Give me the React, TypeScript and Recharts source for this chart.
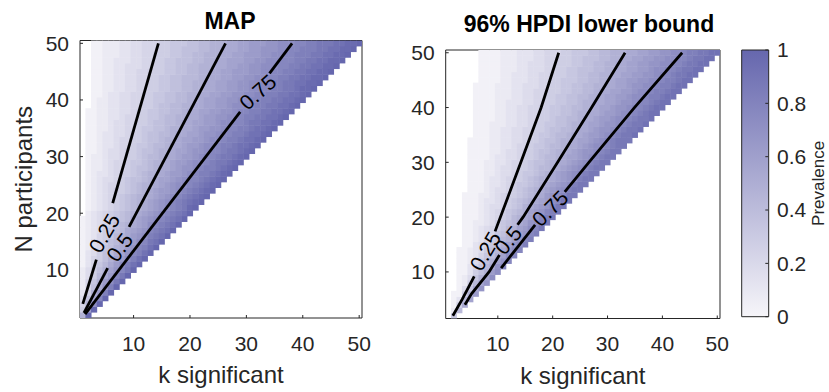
import React from "react";
import { ScatterChart, Scatter, XAxis, YAxis, BarChart, Bar } from "recharts";

const FONT = "'Liberation Sans', Arial, Helvetica, sans-serif";
const INK = "#262626";

// grid of the two heatmaps: N participants (rows) x k significant (columns, k <= N)
const N_ROWS = [
  2, 3, 4, 5, 6, 7, 8, 9, 10, 11, 12, 13, 14, 15, 16, 17, 18, 19, 20, 21, 22, 23, 24, 25, 26,
  27, 28, 29, 30, 31, 32, 33, 34, 35, 36, 37, 38, 39, 40, 41, 42, 43, 44, 45, 46, 47, 48, 49, 50,
];
const K_TICKS = [10, 20, 30, 40, 50];
const N_TICKS = [10, 20, 30, 40, 50];
const BAR_TICKS = [0, 0.2, 0.4, 0.6, 0.8, 1];

// prevalence levels, read as iso-lines (k position where the colour reaches each level)
const LEVELS = [0, 0.05, 0.1, 0.15, 0.2, 0.25, 0.3, 0.35, 0.4, 0.45, 0.5, 0.55, 0.6, 0.65, 0.7, 0.75, 0.8, 0.85, 0.9, 0.95, 1];

// MAP: iso-lines are rays, k read at N = 0 and N = 50
const MAP_ISO_N = [0, 50];
const MAP_ISO_K = [
  [0, 2.6], [0, 4.9], [0, 7.3], [0, 9.6], [0, 12.0], [0, 14.4], [0, 16.8], [0, 19.1], [0, 21.5], [0, 23.9],
  [0, 26.3], [0, 28.6], [0, 31.0], [0, 33.4], [0, 35.8], [0, 38.1], [0, 40.5], [0, 42.9], [0, 45.3], [0, 47.6], [0, 50],
];

// HPDI lower bound: k read at N = 2, 5, 10, 20, 30, 40, 50
const HPDI_ISO_N = [2, 5, 10, 20, 30, 40, 50];
const HPDI_ISO_K = [
  [1.6, 1.8, 2.6, 3.6, 4.6, 5.6, 6.6],
  [1.6, 2.8, 4.2, 6.2, 7.9, 9.4, 10.9],
  [1.6, 3.0, 4.7, 7.3, 9.6, 11.7, 13.7],
  [1.6, 3.2, 5.2, 8.4, 11.2, 13.9, 16.4],
  [1.7, 3.4, 5.6, 9.4, 12.8, 16.0, 19.0],
  [1.8, 3.5, 6.0, 10.3, 14.2, 17.9, 21.2],
  [2.0, 3.7, 6.5, 11.3, 15.7, 19.9, 23.8],
  [2.1, 3.9, 6.9, 12.1, 17.0, 21.8, 26.3],
  [2.1, 4.0, 7.3, 13.0, 18.4, 23.6, 28.6],
  [2.5, 4.1, 7.7, 13.8, 19.7, 25.4, 30.9],
  [2.5, 4.3, 8.2, 14.6, 20.9, 27.1, 33.1],
  [3.4, 4.5, 8.6, 15.3, 22.1, 28.7, 35.2],
  [3.5, 5.2, 8.9, 16.1, 23.3, 30.4, 37.3],
  [3.5, 5.5, 9.2, 16.7, 24.4, 31.9, 39.3],
  [3.5, 6.0, 9.5, 17.4, 25.5, 33.4, 41.3],
  [3.5, 6.0, 10.2, 18.0, 26.6, 34.9, 43.4],
  [3.5, 6.0, 11.0, 18.6, 27.4, 36.2, 44.9],
  [3.5, 6.0, 12.5, 19.1, 28.3, 37.5, 46.6],
  [3.5, 6.0, 12.5, 21.0, 31.0, 38.6, 48.1],
  [3.5, 6.0, 12.5, 21.0, 31.0, 41.0, 51.0],
];

type Pt = { k: number; n: number };
type Contour = { level: string; segments: Pt[][]; label: Pt };

const MAP_CONTOURS: Contour[] = [
  {
    level: "0.25",
    segments: [
      [{ k: 1.0, n: 4.0 }, { k: 3.4, n: 11.8 }],
      [{ k: 6.3, n: 21.8 }, { k: 14.4, n: 50 }],
    ],
    label: { k: 4.8, n: 16.5 },
  },
  {
    level: "0.5",
    segments: [
      [{ k: 1.2, n: 2.4 }, { k: 5.4, n: 10.3 }],
      [{ k: 9.2, n: 17.6 }, { k: 26.3, n: 50 }],
    ],
    label: { k: 7.5, n: 14.0 },
  },
  {
    level: "0.75",
    segments: [
      [{ k: 1.4, n: 2.2 }, { k: 28.9, n: 37.9 }],
      [{ k: 34.1, n: 44.7 }, { k: 38.1, n: 50 }],
    ],
    label: { k: 32.0, n: 41.4 },
  },
];

const HPDI_CONTOURS: Contour[] = [
  {
    level: "0.25",
    segments: [
      [{ k: 1.8, n: 2.0 }, { k: 3.5, n: 5 }, { k: 5.7, n: 9.2 }],
      [{ k: 9.5, n: 17.4 }, { k: 14.2, n: 30 }, { k: 17.9, n: 40 }, { k: 21.1, n: 50 }],
    ],
    label: { k: 7.7, n: 13.8 },
  },
  {
    level: "0.5",
    segments: [
      [{ k: 4.0, n: 4.0 }, { k: 5.2, n: 6 }, { k: 8.4, n: 10 }, { k: 10.3, n: 13.1 }],
      [{ k: 13.6, n: 18.6 }, { k: 14.6, n: 20 }, { k: 20.9, n: 30 }, { k: 27.1, n: 40 }, { k: 33.2, n: 50 }],
    ],
    label: { k: 11.9, n: 15.8 },
  },
  {
    level: "0.75",
    segments: [
      [{ k: 10.6, n: 10.7 }, { k: 16.8, n: 18.6 }],
      [{ k: 22.2, n: 24.6 }, { k: 26.6, n: 30 }, { k: 34.9, n: 40 }, { k: 43.6, n: 50 }],
    ],
    label: { k: 19.5, n: 21.6 },
  },
];

const BAR_DATA = [{ name: "Prevalence", v: 1 }];

// styles
const LOW = [246, 245, 249];
const HIGH = [102, 103, 174];
const MAP_ANGLES: Record<string, number> = { "0.25": -60, "0.5": -54, "0.75": -42 };
const HPDI_ANGLES: Record<string, number> = { "0.25": -60, "0.5": -50, "0.75": -45 };

function colorAt(v: number) {
  const c = LOW.map((lo, i) => Math.round(lo + (HIGH[i] - lo) * v));
  return `rgb(${c[0]},${c[1]},${c[2]})`;
}

function isoAt(rows: number[], ks: number[], n: number) {
  let i = 0;
  while (i < rows.length - 2 && n > rows[i + 1]) i++;
  const t = (n - rows[i]) / (rows[i + 1] - rows[i]);
  return ks[i] + t * (ks[i + 1] - ks[i]);
}

function buildCells(rows: number[], iso: number[][]) {
  const cells: { k: number; n: number; fill: string }[] = [];
  N_ROWS.forEach((n) => {
    for (let k = 1; k <= n; k++) {
      let lvl = -1;
      iso.forEach((ks, i) => {
        if (k >= isoAt(rows, ks, n) - 1e-6) lvl = i;
      });
      if (lvl < 0) continue;
      const v = Math.min(LEVELS[lvl] + 0.025, 1);
      cells.push({ k, n, fill: colorAt(LEVELS[lvl] === 1 ? 1 : v) });
    }
  });
  return cells;
}

const MAP_CELLS = buildCells(MAP_ISO_N, MAP_ISO_K);
const HPDI_CELLS = buildCells(HPDI_ISO_N, HPDI_ISO_K);

type Box = { x: number; width: number; plotLeft: number; plotRight: number; plotTop: number; plotBottom: number };
const LEFT_BOX: Box = { x: 0, width: 400, plotLeft: 80, plotRight: 362, plotTop: 40.5, plotBottom: 318 };
const RIGHT_BOX: Box = { x: 400, width: 330, plotLeft: 445.7, plotRight: 720, plotTop: 50, plotBottom: 318.5 };
const H = 392;
const XAXIS_H = 70;

const tickStyle = { fontSize: 21, fill: INK, fontFamily: FONT };

function Panel({ box, cells, contours, angles, yLabel }: {
  box: Box; cells: any[]; contours: Contour[]; angles: Record<string, number>; yLabel?: string;
}) {
  const cw = (box.plotRight - box.plotLeft) / 50;
  const ch = (box.plotBottom - box.plotTop) / 49;
  const labels = contours.map((c) => ({ ...c.label, text: c.level }));

  const cellShape = (p: any) => (
    <rect x={p.cx - cw / 2 - 0.25} y={p.cy - ch / 2 - 0.25} width={cw + 0.5} height={ch + 0.5} fill={p.payload.fill} />
  );
  const labelShape = (p: any) => (
    <text
      x={p.cx}
      y={p.cy}
      transform={`rotate(${angles[p.payload.text]} ${p.cx} ${p.cy})`}
      textAnchor="middle"
      dominantBaseline="central"
      fontSize={21}
      fontFamily={FONT}
      fill="#000"
    >
      {p.payload.text}
    </text>
  );

  return (
    <div style={{ position: "absolute", left: box.x, top: 0 }}>
      <ScatterChart
        width={box.width}
        height={H}
        margin={{
          top: box.plotTop - 1,
          right: box.x + box.width - box.plotRight - 1,
          bottom: H - box.plotBottom - XAXIS_H,
          left: 0,
        }}
      >
        <XAxis
          xAxisId="b"
          type="number"
          dataKey="k"
          domain={[0.5, 50.5]}
          allowDataOverflow
          ticks={K_TICKS}
          height={XAXIS_H}
          tickSize={-3}
          tickMargin={21}
          stroke={INK}
          tick={tickStyle}
          label={{ value: "k significant", position: "insideBottom", offset: 5, fontSize: 24, fill: INK, fontFamily: FONT }}
        />
        <XAxis xAxisId="t" orientation="top" type="number" domain={[0.5, 50.5]} allowDataOverflow ticks={K_TICKS} height={1} tickSize={-3} tick={false} stroke={INK} />
        <YAxis
          yAxisId="l"
          type="number"
          dataKey="n"
          domain={[1.5, 50.5]}
          allowDataOverflow
          ticks={N_TICKS}
          width={box.plotLeft - box.x}
          tickSize={-3}
          tickMargin={14}
          stroke={INK}
          tick={tickStyle}
          label={
            yLabel
              ? { value: yLabel, angle: -90, position: "insideLeft", offset: 23, fontSize: 24, fill: INK, fontFamily: FONT, style: { textAnchor: "middle" } }
              : undefined
          }
        />
        <YAxis yAxisId="r" orientation="right" type="number" domain={[1.5, 50.5]} allowDataOverflow ticks={N_TICKS} width={1} tickSize={-3} tick={false} stroke={INK} />
        <Scatter xAxisId="b" yAxisId="l" data={cells} shape={cellShape} isAnimationActive={false} />
        {contours.map((c) =>
          c.segments.map((seg, i) => (
            <Scatter
              key={c.level + i}
              xAxisId="b"
              yAxisId="l"
              data={seg}
              line={{ stroke: "#000", strokeWidth: 2.8 }}
              lineType="joint"
              shape={() => <g />}
              isAnimationActive={false}
            />
          ))
        )}
        <Scatter xAxisId="b" yAxisId="l" data={labels} shape={labelShape} isAnimationActive={false} />
      </ScatterChart>
    </div>
  );
}

function Colorbar() {
  return (
    <div style={{ position: "absolute", left: 730, top: 0 }}>
      <BarChart width={99} height={H} data={BAR_DATA} margin={{ top: 50, right: 0, bottom: H - 316.7, left: 11.7 }} barCategoryGap={0}>
        <defs>
          <linearGradient id="cbGrad" x1="0" y1="0" x2="0" y2="1">
            <stop offset="0" stopColor={colorAt(1)} />
            <stop offset="1" stopColor={colorAt(0)} />
          </linearGradient>
        </defs>
        <XAxis dataKey="name" hide />
        <YAxis
          orientation="right"
          type="number"
          domain={[0, 1]}
          ticks={BAR_TICKS}
          width={60.7}
          axisLine={false}
          tickSize={-3}
          tickMargin={11.7}
          stroke={INK}
          tick={tickStyle}
          label={{ value: "Prevalence", angle: -90, position: "insideRight", offset: 11, fontSize: 17, fill: INK, fontFamily: FONT, style: { textAnchor: "middle" } }}
        />
        <Bar dataKey="v" fill="url(#cbGrad)" stroke={INK} strokeWidth={1} isAnimationActive={false} />
      </BarChart>
    </div>
  );
}

export default function App() {
  return (
    <div style={{ position: "absolute", left: 0, top: 0, width: 829, height: H, background: "#fff", overflow: "hidden" }}>
      <Panel box={LEFT_BOX} cells={MAP_CELLS} contours={MAP_CONTOURS} angles={MAP_ANGLES} yLabel="N participants" />
      <Panel box={RIGHT_BOX} cells={HPDI_CELLS} contours={HPDI_CONTOURS} angles={HPDI_ANGLES} />
      <Colorbar />
      <svg width={829} height={H} style={{ position: "absolute", left: 0, top: 0, pointerEvents: "none" }}>
        <text x={230} y={29.3} textAnchor="middle" fontSize={23} fontWeight="bold" fontFamily={FONT} fill="#000">
          MAP
        </text>
        <text x={589} y={31.7} textAnchor="middle" fontSize={23} fontWeight="bold" fontFamily={FONT} fill="#000">
          96% HPDI lower bound
        </text>
      </svg>
    </div>
  );
}
